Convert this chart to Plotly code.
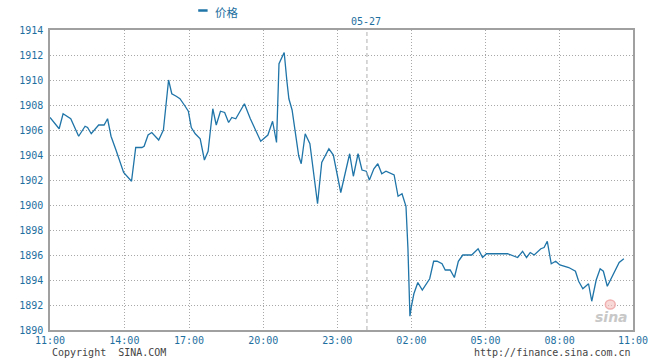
import plotly.graph_objects as go

# ---- data (x = hours elapsed since 11:00 on the chart's time axis) ----
time_h = [0.00, 0.37, 0.53, 0.84, 1.16, 1.42, 1.52, 1.67, 1.97, 2.19,
          2.33, 2.47, 2.67, 2.98, 3.30, 3.47, 3.72, 3.81, 3.97, 4.12,
          4.40, 4.59, 4.80, 4.93, 5.11, 5.26, 5.47, 5.60, 5.72, 5.88,
          6.08, 6.25, 6.40, 6.59, 6.73, 6.90, 7.07, 7.23, 7.36, 7.52,
          7.87, 8.11, 8.53, 8.82, 9.01, 9.11, 9.17, 9.27, 9.37, 9.48,
          9.59, 9.67, 9.80, 9.93, 10.07, 10.17, 10.33, 10.52, 10.73, 10.83,
          11.00, 11.29, 11.47, 11.77, 12.13, 12.28, 12.47, 12.63, 12.80, 12.93,
          13.11, 13.27, 13.43, 13.60, 13.93, 14.09, 14.25, 14.41, 14.49, 14.57,
          14.63, 14.73, 14.89, 15.07, 15.37, 15.53, 15.67, 15.87, 16.00, 16.20,
          16.37, 16.53, 16.71, 17.07, 17.33, 17.51, 17.67, 18.52, 18.93, 19.13,
          19.29, 19.44, 19.60, 19.87, 20.00, 20.13, 20.29, 20.47, 20.64, 21.00,
          21.27, 21.40, 21.57, 21.80, 21.93, 22.11, 22.27, 22.40, 22.56, 22.80,
          23.04, 23.23]
price = [1907.0, 1906.1, 1907.3, 1906.9, 1905.5, 1906.3, 1906.2, 1905.7, 1906.4, 1906.4,
         1906.9, 1905.5, 1904.4, 1902.6, 1901.9, 1904.6, 1904.6, 1904.7, 1905.6, 1905.8,
         1905.2, 1906.0, 1910.0, 1908.9, 1908.7, 1908.5, 1907.9, 1907.5, 1906.2, 1905.7,
         1905.3, 1903.6, 1904.3, 1907.7, 1906.4, 1907.5, 1907.4, 1906.6, 1907.0, 1906.9,
         1908.1, 1906.9, 1905.1, 1905.6, 1906.7, 1905.7, 1905.0, 1911.3, 1911.7, 1912.2,
         1909.9, 1908.5, 1907.6, 1905.6, 1903.9, 1903.3, 1905.7, 1904.9, 1901.8, 1900.1,
         1903.4, 1904.5, 1904.0, 1901.0, 1904.1, 1902.3, 1904.1, 1902.8, 1902.7, 1902.0,
         1902.9, 1903.3, 1902.5, 1902.7, 1902.4, 1900.7, 1900.9, 1899.9, 1896.5, 1891.1,
         1891.9, 1892.9, 1893.8, 1893.2, 1894.1, 1895.5, 1895.5, 1895.3, 1894.8, 1894.8,
         1894.2, 1895.5, 1896.0, 1896.0, 1896.5, 1895.8, 1896.1, 1896.1, 1895.8, 1896.3,
         1895.8, 1896.2, 1896.0, 1896.5, 1896.6, 1897.1, 1895.3, 1895.5, 1895.2, 1895.0,
         1894.7, 1893.9, 1893.3, 1893.7, 1892.3, 1894.0, 1894.9, 1894.7, 1893.5, 1894.5,
         1895.4, 1895.7]

tick_pos = [0.0, 3.01, 5.63, 8.63, 11.63, 14.63, 17.63, 20.63, 23.6]
tick_labels = ["11:00", "14:00", "17:00", "20:00", "23:00", "02:00", "05:00", "08:00", "11:00"]
y_ticks = [1890, 1892, 1894, 1896, 1898, 1900, 1902, 1904, 1906, 1908, 1910, 1912, 1914]
date_sep = 12.83
date_label = "05-27"
series_name = "价格"

LINE = "#1f74a8"
LABEL = "#1e6fa0"
GRID = "#a8a8a8"
MONO = "DejaVu Sans Mono"

fig = go.Figure()
fig.add_trace(go.Scatter(x=time_h, y=price, mode="lines", name=series_name,
                         line=dict(color=LINE, width=1.3), showlegend=False))

fig.update_layout(
    width=660, height=360,
    margin=dict(l=50, r=20, t=30, b=30),
    paper_bgcolor="white", plot_bgcolor="white",
    xaxis=dict(range=[0, 23.6], tickmode="array", tickvals=tick_pos, ticktext=tick_labels,
               showgrid=True, gridcolor=GRID, griddash="1px,2px", gridwidth=1,
               showline=True, linecolor="#a0a0a0", linewidth=1.5, mirror=True,
               ticks="", tickfont=dict(family=MONO, size=10, color=LABEL), zeroline=False),
    yaxis=dict(range=[1890, 1914], tickmode="array", tickvals=y_ticks,
               showgrid=True, gridcolor=GRID, griddash="1px,2px", gridwidth=1,
               showline=True, linecolor="#a0a0a0", linewidth=1.5, mirror=True,
               ticks="", ticklabelstandoff=3,
               tickfont=dict(family=MONO, size=10, color=LABEL), zeroline=False),
    showlegend=False,
)

# date separator
fig.add_shape(type="line", xref="x", yref="paper", x0=date_sep, x1=date_sep, y0=0, y1=1,
              line=dict(color="#b0b0b0", width=1, dash="4px,3px"))
fig.add_annotation(x=date_sep, xref="x", y=1, yref="paper", yanchor="bottom", yshift=1,
                   xshift=-1, text=date_label, showarrow=False,
                   font=dict(family=MONO, size=10, color=LABEL))

# legend (manual)
fig.add_shape(type="line", xref="paper", yref="paper",
              x0=(200 - 50) / 590, x1=(209.5 - 50) / 590,
              y0=(330 - 10.5) / 300, y1=(330 - 10.5) / 300,
              line=dict(color=LINE, width=2.5))
fig.add_annotation(xref="paper", yref="paper", x=(215 - 50) / 590, y=(330 - 12) / 300,
                   xanchor="left", yanchor="middle", text=series_name, showarrow=False,
                   font=dict(family="Noto Sans CJK SC", size=11.5, color=LABEL))

# footer texts
fig.add_annotation(xref="paper", yref="paper", x=0, y=(330 - 352) / 300, xanchor="left",
                   yanchor="middle", text="Copyright  SINA.COM", showarrow=False,
                   font=dict(family=MONO, size=10, color="#444444"))
fig.add_annotation(xref="paper", yref="paper", x=1, y=(330 - 352) / 300, xanchor="right",
                   yanchor="middle", text="http://finance.sina.com.cn", showarrow=False,
                   font=dict(family=MONO, size=10, color="#444444"))

# watermark logo
fig.add_annotation(xref="paper", yref="paper", x=(618 - 50) / 590, y=(330 - 317) / 300,
                   xanchor="center", yanchor="middle", text="<b><i>sina</i></b>",
                   showarrow=False, font=dict(family="DejaVu Sans", size=14, color="#c8c8c8"))
fig.add_shape(type="circle", xref="paper", yref="paper",
              x0=(612 - 50) / 590, x1=(622 - 50) / 590,
              y0=(330 - 309) / 300, y1=(330 - 300) / 300,
              line=dict(color="#f0b0b0", width=1.5), fillcolor="rgba(245,190,190,0.6)")

fig.write_html("out.html")
